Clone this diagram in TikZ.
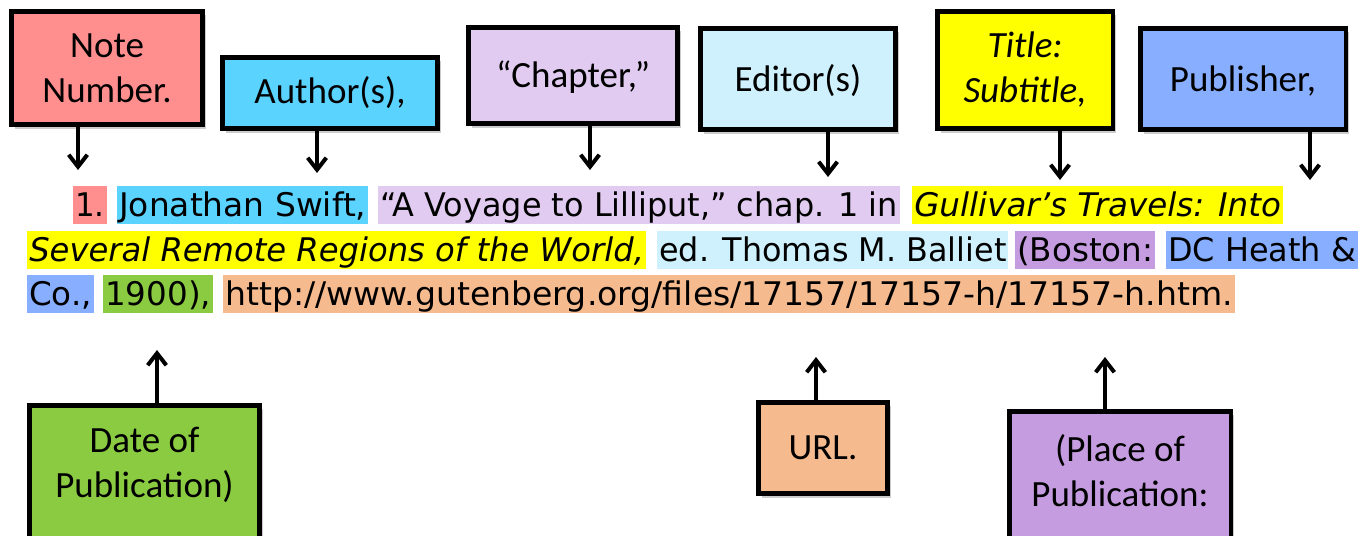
\documentclass[tikz,border=0pt]{standalone}
\usepackage{fontspec}
\usepackage{graphicx}
\setmainfont{Carlito}
\newfontfamily\citefont{DejaVu Sans}
\usetikzlibrary{arrows.meta,shadows}
\definecolor{cNote}{HTML}{FF8F8F}
\definecolor{cAuthor}{HTML}{5BD3FF}
\definecolor{cChapter}{HTML}{E1CBF0}
\definecolor{cEditor}{HTML}{CFF1FD}
\definecolor{cTitle}{HTML}{FFFF00}
\definecolor{cPub}{HTML}{88AEFF}
\definecolor{cDate}{HTML}{8BCB41}
\definecolor{cURL}{HTML}{F6BA8F}
\definecolor{cPlace}{HTML}{C59CE0}
\newcommand\cf{\citefont\fontsize{24.4}{29}\selectfont}
\newcommand\boxft{\fontsize{27.75}{33.75}\selectfont}
\newcommand\sx[2]{\scalebox{#1}[1]{#2}}
\begin{document}
\begin{tikzpicture}[x=0.75pt,y=-0.75pt,
  box/.style={draw=black, line width=3.4pt, fill=#1,
    drop shadow={shadow xshift=2.5pt, shadow yshift=-3pt, fill=black, opacity=0.2},
    inner sep=0pt, align=center, font=\boxft},
  sz/.style 2 args={minimum width=#1*0.75pt, minimum height=#2*0.75pt},
  lbl/.style={inner sep=0pt, align=center, font=\boxft},
  arr/.style={line width=3pt, -{Straight Barb[length=9pt,width=14pt]}},
  hl/.style={fill=#1, inner xsep=1.5pt, inner ysep=0pt, text height=22.5pt,
    text depth=6pt, anchor=base west, font=\cf}]
\useasboundingbox (0,0) rectangle (1366,535);
\clip (0,0) rectangle (1366,535);

% top boxes
\node[box=cNote, sz={191.5}{113.5}] (note) at (107,68) {Note\\Number.};
\node[box=cAuthor, sz={215.5}{71.5}] (author) at (330,93) {Author(s),};
\node[box=cChapter, sz={209.5}{96.5}, text height=22pt] (chapter) at (573,75.5) {“Chapter,”};
\node[box=cEditor, sz={195.5}{101.5}, text height=22pt] (editor) at (798,79) {Editor(s)};
\node[box=cTitle, sz={175.5}{117.5}, font=\boxft\itshape] (title) at (1025,70) {Title:\\Subtitle,};
\node[box=cPub, sz={205.5}{101.5}, text height=22pt] (pub) at (1243,79) {Publisher,};

% top arrows
\coordinate (aN) at (78,170);
\coordinate (aA) at (317,173);
\coordinate (aC) at (590,170);
\coordinate (aE) at (828,177);
\coordinate (aT) at (1060,180);
\coordinate (aP) at (1310,180);
\draw[arr] (note.south -| aN) -- (aN);
\draw[arr] (author.south -| aA) -- (aA);
\draw[arr] (chapter.south -| aC) -- (aC);
\draw[arr] (editor.south -| aE) -- (aE);
\draw[arr] (title.south -| aT) -- (aT);
\draw[arr] (pub.south -| aP) -- (aP);

% citation
\node[hl=cNote] (s1) at (73,216) {\sx{0.95}{1.}};
\node[hl=cAuthor] (s2) at (117,216) {\sx{1.01}{Jonathan Swift,}};
\node[hl=cChapter] (s3) at (378,216) {\sx{0.98}{“A Voyage to Lilliput,” chap. 1 in}};
\node[hl=cTitle, font=\cf\itshape] (s4) at (912,216) {Gullivar’s Travels: Into};
\node[hl=cTitle, font=\cf\itshape] (s5) at (27,261) {\sx{0.99}{Several Remote Regions of the World,}};
\node[hl=cEditor] (s6) at (657,261) {\sx{0.978}{ed. Thomas M. Balliet}};
\node[hl=cPlace] (s7) at (1015,261) {(Boston:};
\node[hl=cPub] (s8) at (1166,261) {\sx{0.98}{DC Heath \&}};
\node[hl=cPub] (s9) at (27,305) {Co.,};
\node[hl=cDate] (s10) at (103,305) {1900),};
\node[hl=cURL] (s11) at (223,305) {\sx{1.017}{http://www.gutenberg.org/files/17157/17157-h/17157-h.htm.}};

% bottom boxes
\node[box=cDate, sz={230.5}{200}, anchor=north] (date) at (144.5,403) {};
\node[lbl] (datet) at (144.5,465) {Date of\\Publication)};
\node[box=cURL, sz={129.5}{91.5}] (url) at (823,448) {URL.};
\node[box=cPlace, sz={221.5}{200}, anchor=north] (place) at (1120,409) {};
\node[lbl] (placet) at (1120,471) {(Place of\\Publication:};

% bottom arrows
\coordinate (bD) at (157,350);
\coordinate (bU) at (816,357);
\coordinate (bP) at (1105,357);
\draw[arr] (date.north -| bD) -- (bD);
\draw[arr] (url.north -| bU) -- (bU);
\draw[arr] (place.north -| bP) -- (bP);
\end{tikzpicture}
\end{document}
